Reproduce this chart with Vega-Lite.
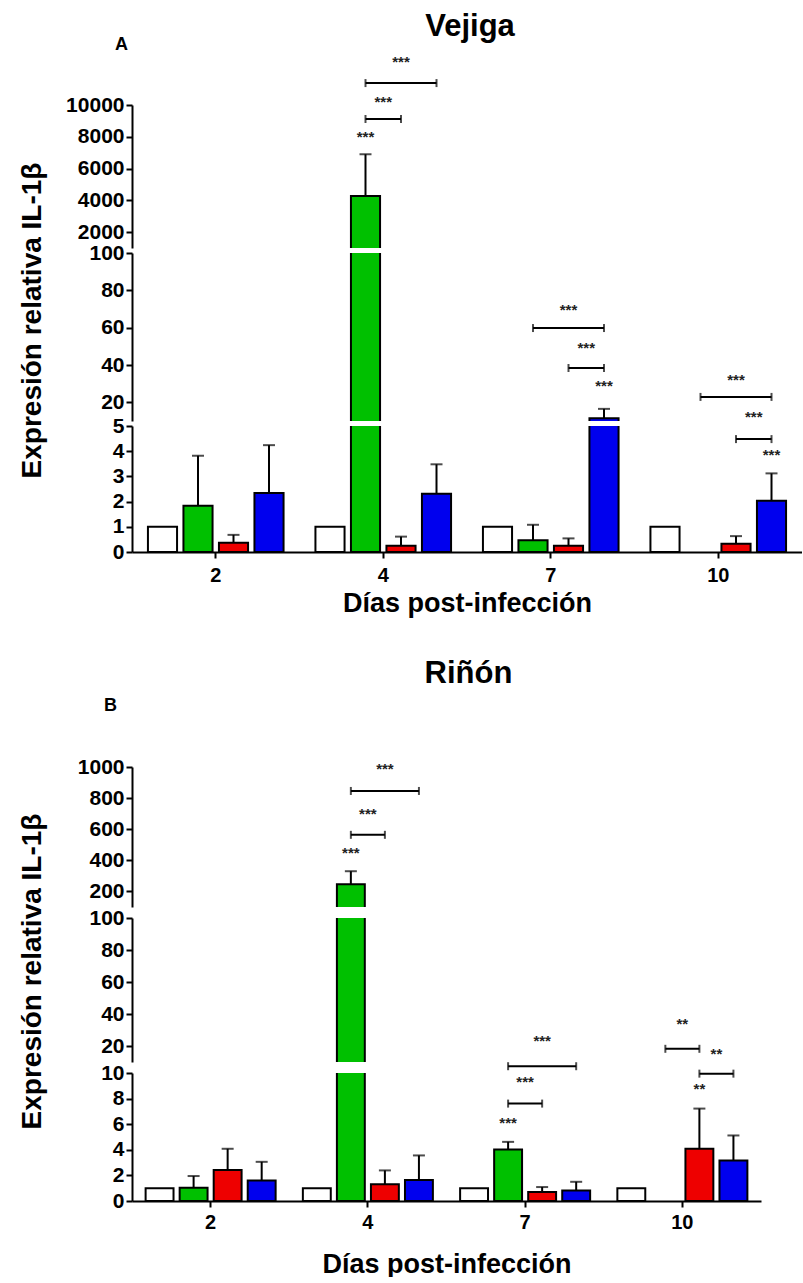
{
  "$schema": "https://vega.github.io/schema/vega-lite/v6.json",
  "background": "white",
  "padding": {"left": 17, "top": 11, "right": 0, "bottom": 0},
  "config": {
    "view": {"stroke": null},
    "font": "Liberation Sans",
    "axis": {"domainColor": "black", "tickColor": "black", "labelColor": "black", "titleColor": "black", "domainWidth": 2, "tickWidth": 2, "labelFont": "Liberation Sans", "titleFont": "Liberation Sans", "labelFontWeight": "bold", "titleFontWeight": "bold", "grid": false},
    "axisY": {"labelFontSize": 21, "tickSize": 6, "labelPadding": 2, "titleFontSize": 28},
    "axisX": {"labelFontSize": 20, "titleFontSize": 27, "tickSize": 6, "labelAngle": 0},
    "title": {"font": "Liberation Sans", "fontWeight": "bold", "color": "black"}
  },
  "datasets": {
    "barsA": [
      {"day": "2", "grp": "C", "v": 1},
      {"day": "2", "grp": "G", "v": 1.84, "hi": 3.82},
      {"day": "2", "grp": "R", "v": 0.37, "hi": 0.68},
      {"day": "2", "grp": "B", "v": 2.34, "hi": 4.24},
      {"day": "4", "grp": "C", "v": 1},
      {"day": "4", "grp": "G", "v": 4270, "hi": 6900},
      {"day": "4", "grp": "R", "v": 0.25, "hi": 0.61},
      {"day": "4", "grp": "B", "v": 2.31, "hi": 3.48},
      {"day": "7", "grp": "C", "v": 1},
      {"day": "7", "grp": "G", "v": 0.47, "hi": 1.08},
      {"day": "7", "grp": "R", "v": 0.25, "hi": 0.54},
      {"day": "7", "grp": "B", "v": 11.5, "hi": 16.5},
      {"day": "10", "grp": "C", "v": 1},
      {"day": "10", "grp": "R", "v": 0.33, "hi": 0.63},
      {"day": "10", "grp": "B", "v": 2.03, "hi": 3.12}
    ],
    "brA": [
      {"day": "4", "grp": "G", "v": 9120, "id": "a1", "seg": "top"},
      {"day": "4", "grp": "R", "v": 9120, "id": "a1", "seg": "top"},
      {"day": "4", "grp": "G", "v": 11380, "id": "a2", "seg": "top"},
      {"day": "4", "grp": "B", "v": 11380, "id": "a2", "seg": "top"},
      {"day": "7", "grp": "G", "v": 59.8, "id": "a3", "seg": "mid"},
      {"day": "7", "grp": "B", "v": 59.8, "id": "a3", "seg": "mid"},
      {"day": "7", "grp": "R", "v": 38.4, "id": "a4", "seg": "mid"},
      {"day": "7", "grp": "B", "v": 38.4, "id": "a4", "seg": "mid"},
      {"day": "10", "grp": "G", "v": 22.9, "id": "a5", "seg": "mid"},
      {"day": "10", "grp": "B", "v": 22.9, "id": "a5", "seg": "mid"},
      {"day": "10", "grp": "R", "v": 4.48, "id": "a6", "seg": "bot"},
      {"day": "10", "grp": "B", "v": 4.48, "id": "a6", "seg": "bot"}
    ],
    "sigA": [
      {"day": "4", "grp": "G", "v": 7680, "t": "***", "seg": "top"},
      {"day": "4", "grp": "R", "v": 12390, "t": "***", "seg": "top"},
      {"day": "7", "grp": "R", "v": 66.8, "t": "***", "seg": "mid"},
      {"day": "7", "grp": "B", "v": 26.1, "t": "***", "seg": "mid"},
      {"day": "10", "grp": "R", "v": 29.3, "t": "***", "seg": "mid"},
      {"day": "10", "grp": "B", "v": 3.65, "t": "***", "seg": "bot"}
    ],
    "sigAm": [
      {"day": "4", "grp": "G", "v": 9874, "t": "***", "seg": "top"},
      {"day": "7", "grp": "R", "v": 46.4, "t": "***", "seg": "mid"},
      {"day": "10", "grp": "R", "v": 5.16, "t": "***", "seg": "bot"}
    ],
    "barsB": [
      {"day": "2", "grp": "C", "v": 1},
      {"day": "2", "grp": "G", "v": 1.04, "hi": 1.95},
      {"day": "2", "grp": "R", "v": 2.42, "hi": 4.08},
      {"day": "2", "grp": "B", "v": 1.61, "hi": 3.06},
      {"day": "4", "grp": "C", "v": 1},
      {"day": "4", "grp": "G", "v": 247, "hi": 330},
      {"day": "4", "grp": "R", "v": 1.3, "hi": 2.39},
      {"day": "4", "grp": "B", "v": 1.64, "hi": 3.56},
      {"day": "7", "grp": "C", "v": 1},
      {"day": "7", "grp": "G", "v": 4.03, "hi": 4.62},
      {"day": "7", "grp": "R", "v": 0.7, "hi": 1.09},
      {"day": "7", "grp": "B", "v": 0.83, "hi": 1.5},
      {"day": "10", "grp": "C", "v": 1},
      {"day": "10", "grp": "R", "v": 4.08, "hi": 7.22},
      {"day": "10", "grp": "B", "v": 3.17, "hi": 5.12}
    ],
    "brB": [
      {"day": "4", "grp": "G", "v": 564, "id": "b1", "seg": "top"},
      {"day": "4", "grp": "R", "v": 564, "id": "b1", "seg": "top"},
      {"day": "4", "grp": "G", "v": 846, "id": "b2", "seg": "top"},
      {"day": "4", "grp": "B", "v": 846, "id": "b2", "seg": "top"},
      {"day": "7", "grp": "G", "v": 10.53, "id": "b3", "seg": "bot"},
      {"day": "7", "grp": "B", "v": 10.53, "id": "b3", "seg": "bot"},
      {"day": "7", "grp": "G", "v": 7.61, "id": "b4", "seg": "bot"},
      {"day": "7", "grp": "R", "v": 7.61, "id": "b4", "seg": "bot"},
      {"day": "10", "grp": "G", "v": 11.89, "id": "b5", "seg": "bot"},
      {"day": "10", "grp": "R", "v": 11.89, "id": "b5", "seg": "bot"},
      {"day": "10", "grp": "R", "v": 9.95, "id": "b6", "seg": "bot"},
      {"day": "10", "grp": "B", "v": 9.95, "id": "b6", "seg": "bot"}
    ],
    "sigB": [
      {"day": "4", "grp": "G", "v": 416, "t": "***", "seg": "top"},
      {"day": "4", "grp": "R", "v": 955, "t": "***", "seg": "top"},
      {"day": "7", "grp": "R", "v": 12.13, "t": "***", "seg": "bot"},
      {"day": "7", "grp": "G", "v": 5.69, "t": "***", "seg": "bot"},
      {"day": "10", "grp": "R", "v": 8.39, "t": "**", "seg": "bot"}
    ],
    "sigBm": [
      {"day": "4", "grp": "G", "v": 666, "t": "***", "seg": "top"},
      {"day": "7", "grp": "G", "v": 8.93, "t": "***", "seg": "bot"},
      {"day": "10", "grp": "G", "v": 13.41, "t": "**", "seg": "bot"},
      {"day": "10", "grp": "R", "v": 11.06, "t": "**", "seg": "bot"}
    ]
  },
  "resolve": {"scale": {"xOffset": "independent"}},
  "spacing": 42,
  "vconcat": [
    {
      "title": {"text": "Vejiga", "fontSize": 31, "anchor": "middle", "dx": 60, "offset": -7},
      "bounds": "flush",
      "spacing": 5,
      "resolve": {"scale": {"xOffset": "independent"}},
      "vconcat": [
        {
          "width": 670, "height": 143,
          "title": {"text": "A", "anchor": "start", "frame": "group", "fontSize": 18, "dx": -17, "offset": 1},
          "encoding": {
            "x": {"field": "day", "type": "nominal", "scale": {"domain": ["2", "4", "7", "10"], "paddingInner": 0, "paddingOuter": 0}, "axis": null},
            "xOffset": {"field": "grp", "type": "nominal", "scale": {"domain": ["C", "G", "R", "B"], "paddingInner": 0.18, "paddingOuter": 0.449}},
            "y": {"field": "v", "type": "quantitative", "scale": {"domain": [1000, 10000], "nice": false, "zero": false}, "axis": {"values": [2000, 4000, 6000, 8000, 10000], "format": "d", "title": null}}
          },
          "layer": [
            {"data": {"name": "barsA"}, "mark": {"type": "bar", "clip": true, "stroke": "black", "strokeWidth": 2},
             "encoding": {"y2": {"datum": 0}, "fill": {"field": "grp", "type": "nominal", "scale": {"domain": ["C", "G", "R", "B"], "range": ["#ffffff", "#00c000", "#ee0000", "#0000ee"]}, "legend": null}}},
            {"data": {"name": "barsA"}, "transform": [{"filter": "isValid(datum.hi)"}], "mark": {"type": "rule", "clip": true, "strokeWidth": 2, "color": "black"},
             "encoding": {"y2": {"field": "hi"}}},
            {"data": {"name": "barsA"}, "transform": [{"filter": "isValid(datum.hi)"}], "mark": {"type": "tick", "clip": true, "thickness": 2, "size": 12, "color": "black"},
             "encoding": {"y": {"field": "hi", "type": "quantitative", "axis": {"values": [2000, 4000, 6000, 8000, 10000], "format": "d", "title": null}}}},
            {"data": {"name": "brA"}, "transform": [{"filter": "datum.seg == 'top'"}], "mark": {"type": "line", "color": "black", "strokeWidth": 2},
             "encoding": {"detail": {"field": "id"}}},
            {"data": {"name": "brA"}, "transform": [{"filter": "datum.seg == 'top'"}], "mark": {"type": "tick", "orient": "vertical", "thickness": 2, "size": 8, "color": "black"}},
            {"data": {"name": "sigA"}, "transform": [{"filter": "datum.seg == 'top'"}], "mark": {"type": "text", "fontSize": 15, "fontWeight": "bold", "baseline": "alphabetic", "color": "#222"},
             "encoding": {"text": {"field": "t"}}},
            {"data": {"name": "sigAm"}, "transform": [{"filter": "datum.seg == 'top'"}], "mark": {"type": "text", "fontSize": 15, "fontWeight": "bold", "baseline": "alphabetic", "dx": 17.75, "color": "#222"},
             "encoding": {"text": {"field": "t"}}}
          ]
        },
        {
          "width": 670, "height": 168,
          "encoding": {
            "x": {"field": "day", "type": "nominal", "scale": {"domain": ["2", "4", "7", "10"], "paddingInner": 0, "paddingOuter": 0}, "axis": null},
            "xOffset": {"field": "grp", "type": "nominal", "scale": {"domain": ["C", "G", "R", "B"], "paddingInner": 0.18, "paddingOuter": 0.449}},
            "y": {"field": "v", "type": "quantitative", "scale": {"domain": [10, 100], "nice": false, "zero": false}, "axis": {"values": [20, 40, 60, 80, 100], "format": "d", "title": "Expresión relativa IL-1β", "titleX": -100, "titleY": 67, "titleAngle": -90, "titleAlign": "center", "titleBaseline": "middle"}}
          },
          "layer": [
            {"data": {"name": "barsA"}, "mark": {"type": "bar", "clip": true, "stroke": "black", "strokeWidth": 2},
             "encoding": {"y2": {"datum": 0}, "fill": {"field": "grp", "type": "nominal", "scale": {"domain": ["C", "G", "R", "B"], "range": ["#ffffff", "#00c000", "#ee0000", "#0000ee"]}, "legend": null}}},
            {"data": {"name": "barsA"}, "transform": [{"filter": "isValid(datum.hi)"}], "mark": {"type": "rule", "clip": true, "strokeWidth": 2, "color": "black"},
             "encoding": {"y2": {"field": "hi"}}},
            {"data": {"name": "barsA"}, "transform": [{"filter": "isValid(datum.hi)"}], "mark": {"type": "tick", "clip": true, "thickness": 2, "size": 12, "color": "black"},
             "encoding": {"y": {"field": "hi", "type": "quantitative", "axis": {"values": [20, 40, 60, 80, 100], "format": "d", "title": "Expresión relativa IL-1β", "titleX": -100, "titleY": 67, "titleAngle": -90, "titleAlign": "center", "titleBaseline": "middle"}}}},
            {"data": {"name": "brA"}, "transform": [{"filter": "datum.seg == 'mid'"}], "mark": {"type": "line", "color": "black", "strokeWidth": 2},
             "encoding": {"detail": {"field": "id"}}},
            {"data": {"name": "brA"}, "transform": [{"filter": "datum.seg == 'mid'"}], "mark": {"type": "tick", "orient": "vertical", "thickness": 2, "size": 8, "color": "black"}},
            {"data": {"name": "sigA"}, "transform": [{"filter": "datum.seg == 'mid'"}], "mark": {"type": "text", "fontSize": 15, "fontWeight": "bold", "baseline": "alphabetic", "color": "#222"},
             "encoding": {"text": {"field": "t"}}},
            {"data": {"name": "sigAm"}, "transform": [{"filter": "datum.seg == 'mid'"}], "mark": {"type": "text", "fontSize": 15, "fontWeight": "bold", "baseline": "alphabetic", "dx": 17.75, "color": "#222"},
             "encoding": {"text": {"field": "t"}}}
          ]
        },
        {
          "width": 670, "height": 126,
          "encoding": {
            "x": {"field": "day", "type": "nominal", "scale": {"domain": ["2", "4", "7", "10"], "paddingInner": 0, "paddingOuter": 0}, "axis": {"title": "Días post-infección", "labelPadding": 7, "titlePadding": 5}},
            "xOffset": {"field": "grp", "type": "nominal", "scale": {"domain": ["C", "G", "R", "B"], "paddingInner": 0.18, "paddingOuter": 0.449}},
            "y": {"field": "v", "type": "quantitative", "scale": {"domain": [0, 5], "nice": false, "zero": false}, "axis": {"values": [0, 1, 2, 3, 4, 5], "format": "d", "title": null}}
          },
          "layer": [
            {"data": {"name": "barsA"}, "mark": {"type": "bar", "clip": true, "stroke": "black", "strokeWidth": 2},
             "encoding": {"y2": {"datum": 0}, "fill": {"field": "grp", "type": "nominal", "scale": {"domain": ["C", "G", "R", "B"], "range": ["#ffffff", "#00c000", "#ee0000", "#0000ee"]}, "legend": null}}},
            {"data": {"name": "barsA"}, "transform": [{"filter": "isValid(datum.hi)"}], "mark": {"type": "rule", "clip": true, "strokeWidth": 2, "color": "black"},
             "encoding": {"y2": {"field": "hi"}}},
            {"data": {"name": "barsA"}, "transform": [{"filter": "isValid(datum.hi)"}], "mark": {"type": "tick", "clip": true, "thickness": 2, "size": 12, "color": "black"},
             "encoding": {"y": {"field": "hi", "type": "quantitative", "axis": {"values": [0, 1, 2, 3, 4, 5], "format": "d", "title": null}}}},
            {"data": {"name": "brA"}, "transform": [{"filter": "datum.seg == 'bot'"}], "mark": {"type": "line", "color": "black", "strokeWidth": 2},
             "encoding": {"detail": {"field": "id"}}},
            {"data": {"name": "brA"}, "transform": [{"filter": "datum.seg == 'bot'"}], "mark": {"type": "tick", "orient": "vertical", "thickness": 2, "size": 8, "color": "black"}},
            {"data": {"name": "sigA"}, "transform": [{"filter": "datum.seg == 'bot'"}], "mark": {"type": "text", "fontSize": 15, "fontWeight": "bold", "baseline": "alphabetic", "color": "#222"},
             "encoding": {"text": {"field": "t"}}},
            {"data": {"name": "sigAm"}, "transform": [{"filter": "datum.seg == 'bot'"}], "mark": {"type": "text", "fontSize": 15, "fontWeight": "bold", "baseline": "alphabetic", "dx": 17.75, "color": "#222"},
             "encoding": {"text": {"field": "t"}}}
          ]
        }
      ]
    },
    {
      "title": {"text": "Riñón", "fontSize": 31, "anchor": "middle", "dx": 79, "offset": 6.5},
      "bounds": "flush",
      "spacing": 11,
      "resolve": {"scale": {"xOffset": "independent"}},
      "vconcat": [
        {
          "width": 629, "height": 140,
          "title": {"text": "B", "anchor": "start", "frame": "group", "fontSize": 18, "dx": -28, "offset": 41.5},
          "encoding": {
            "x": {"field": "day", "type": "nominal", "scale": {"domain": ["2", "4", "7", "10"], "paddingInner": 0, "paddingOuter": 0}, "axis": null},
            "xOffset": {"field": "grp", "type": "nominal", "scale": {"domain": ["C", "G", "R", "B"], "paddingInner": 0.18, "paddingOuter": 0.4}},
            "y": {"field": "v", "type": "quantitative", "scale": {"domain": [100, 1000], "nice": false, "zero": false}, "axis": {"values": [200, 400, 600, 800, 1000], "format": "d", "title": null}}
          },
          "layer": [
            {"data": {"name": "barsB"}, "mark": {"type": "bar", "clip": true, "stroke": "black", "strokeWidth": 2},
             "encoding": {"y2": {"datum": 0}, "fill": {"field": "grp", "type": "nominal", "scale": {"domain": ["C", "G", "R", "B"], "range": ["#ffffff", "#00c000", "#ee0000", "#0000ee"]}, "legend": null}}},
            {"data": {"name": "barsB"}, "transform": [{"filter": "isValid(datum.hi)"}], "mark": {"type": "rule", "clip": true, "strokeWidth": 2, "color": "black"},
             "encoding": {"y2": {"field": "hi"}}},
            {"data": {"name": "barsB"}, "transform": [{"filter": "isValid(datum.hi)"}], "mark": {"type": "tick", "clip": true, "thickness": 2, "size": 12, "color": "black"},
             "encoding": {"y": {"field": "hi", "type": "quantitative", "axis": {"values": [200, 400, 600, 800, 1000], "format": "d", "title": null}}}},
            {"data": {"name": "brB"}, "transform": [{"filter": "datum.seg == 'top'"}], "mark": {"type": "line", "color": "black", "strokeWidth": 2},
             "encoding": {"detail": {"field": "id"}}},
            {"data": {"name": "brB"}, "transform": [{"filter": "datum.seg == 'top'"}], "mark": {"type": "tick", "orient": "vertical", "thickness": 2, "size": 8, "color": "black"}},
            {"data": {"name": "sigB"}, "transform": [{"filter": "datum.seg == 'top'"}], "mark": {"type": "text", "fontSize": 15, "fontWeight": "bold", "baseline": "alphabetic", "color": "#222"},
             "encoding": {"text": {"field": "t"}}},
            {"data": {"name": "sigBm"}, "transform": [{"filter": "datum.seg == 'top'"}], "mark": {"type": "text", "fontSize": 15, "fontWeight": "bold", "baseline": "alphabetic", "dx": 17, "color": "#222"},
             "encoding": {"text": {"field": "t"}}}
          ]
        },
        {
          "width": 629, "height": 144,
          "encoding": {
            "x": {"field": "day", "type": "nominal", "scale": {"domain": ["2", "4", "7", "10"], "paddingInner": 0, "paddingOuter": 0}, "axis": null},
            "xOffset": {"field": "grp", "type": "nominal", "scale": {"domain": ["C", "G", "R", "B"], "paddingInner": 0.18, "paddingOuter": 0.4}},
            "y": {"field": "v", "type": "quantitative", "scale": {"domain": [10, 100], "nice": false, "zero": false}, "axis": {"values": [20, 40, 60, 80, 100], "format": "d", "title": "Expresión relativa IL-1β", "titleX": -100, "titleY": 53, "titleAngle": -90, "titleAlign": "center", "titleBaseline": "middle"}}
          },
          "layer": [
            {"data": {"name": "barsB"}, "mark": {"type": "bar", "clip": true, "stroke": "black", "strokeWidth": 2},
             "encoding": {"y2": {"datum": 0}, "fill": {"field": "grp", "type": "nominal", "scale": {"domain": ["C", "G", "R", "B"], "range": ["#ffffff", "#00c000", "#ee0000", "#0000ee"]}, "legend": null}}},
            {"data": {"name": "barsB"}, "transform": [{"filter": "isValid(datum.hi)"}], "mark": {"type": "rule", "clip": true, "strokeWidth": 2, "color": "black"},
             "encoding": {"y2": {"field": "hi"}}},
            {"data": {"name": "barsB"}, "transform": [{"filter": "isValid(datum.hi)"}], "mark": {"type": "tick", "clip": true, "thickness": 2, "size": 12, "color": "black"},
             "encoding": {"y": {"field": "hi", "type": "quantitative", "axis": {"values": [20, 40, 60, 80, 100], "format": "d", "title": "Expresión relativa IL-1β", "titleX": -100, "titleY": 53, "titleAngle": -90, "titleAlign": "center", "titleBaseline": "middle"}}}}
          ]
        },
        {
          "width": 629, "height": 128,
          "encoding": {
            "x": {"field": "day", "type": "nominal", "scale": {"domain": ["2", "4", "7", "10"], "paddingInner": 0, "paddingOuter": 0}, "axis": {"title": "Días post-infección", "labelPadding": 5, "titlePadding": 19}},
            "xOffset": {"field": "grp", "type": "nominal", "scale": {"domain": ["C", "G", "R", "B"], "paddingInner": 0.18, "paddingOuter": 0.4}},
            "y": {"field": "v", "type": "quantitative", "scale": {"domain": [0, 10], "nice": false, "zero": false}, "axis": {"values": [0, 2, 4, 6, 8, 10], "format": "d", "title": null}}
          },
          "layer": [
            {"data": {"name": "barsB"}, "mark": {"type": "bar", "clip": true, "stroke": "black", "strokeWidth": 2},
             "encoding": {"y2": {"datum": 0}, "fill": {"field": "grp", "type": "nominal", "scale": {"domain": ["C", "G", "R", "B"], "range": ["#ffffff", "#00c000", "#ee0000", "#0000ee"]}, "legend": null}}},
            {"data": {"name": "barsB"}, "transform": [{"filter": "isValid(datum.hi)"}], "mark": {"type": "rule", "clip": true, "strokeWidth": 2, "color": "black"},
             "encoding": {"y2": {"field": "hi"}}},
            {"data": {"name": "barsB"}, "transform": [{"filter": "isValid(datum.hi)"}], "mark": {"type": "tick", "clip": true, "thickness": 2, "size": 12, "color": "black"},
             "encoding": {"y": {"field": "hi", "type": "quantitative", "axis": {"values": [0, 2, 4, 6, 8, 10], "format": "d", "title": null}}}},
            {"data": {"name": "brB"}, "transform": [{"filter": "datum.seg == 'bot'"}], "mark": {"type": "line", "color": "black", "strokeWidth": 2},
             "encoding": {"detail": {"field": "id"}}},
            {"data": {"name": "brB"}, "transform": [{"filter": "datum.seg == 'bot'"}], "mark": {"type": "tick", "orient": "vertical", "thickness": 2, "size": 8, "color": "black"}},
            {"data": {"name": "sigB"}, "transform": [{"filter": "datum.seg == 'bot'"}], "mark": {"type": "text", "fontSize": 15, "fontWeight": "bold", "baseline": "alphabetic", "color": "#222"},
             "encoding": {"text": {"field": "t"}}},
            {"data": {"name": "sigBm"}, "transform": [{"filter": "datum.seg == 'bot'"}], "mark": {"type": "text", "fontSize": 15, "fontWeight": "bold", "baseline": "alphabetic", "dx": 17, "color": "#222"},
             "encoding": {"text": {"field": "t"}}}
          ]
        }
      ]
    }
  ]
}
